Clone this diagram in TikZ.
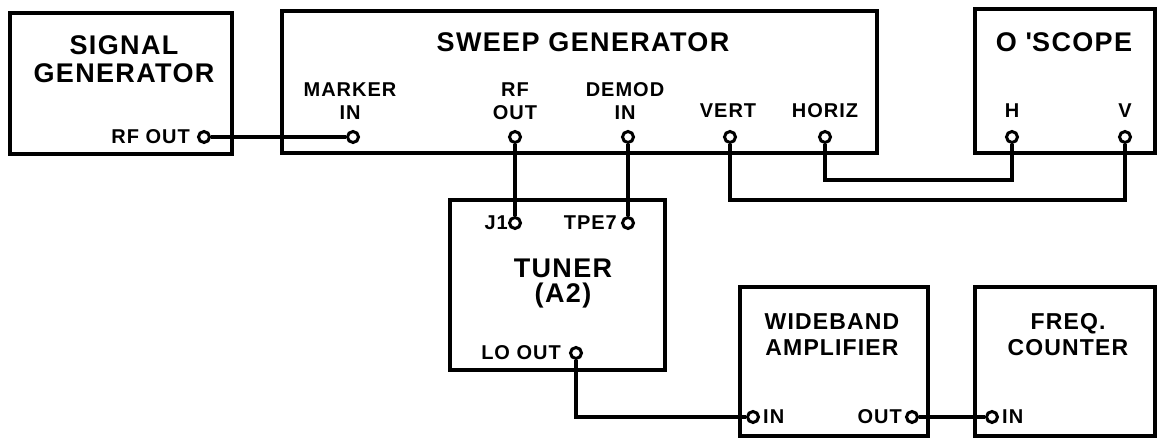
\documentclass[tikz,border=0pt]{standalone}
\usepackage{fontspec}
\setmainfont{Liberation Sans}[LetterSpace=5]
\begin{document}
\begin{tikzpicture}[x=1pt,y=-1pt,
  box/.style={draw, line width=3.4pt, rectangle, inner sep=0pt},
  port/.style={draw, line width=3pt, circle, inner sep=0pt, minimum size=11pt},
  wire/.style={line width=3.2pt},
  ttl/.style={font=\bfseries\fontsize{27}{28}\selectfont, align=center, inner sep=0pt},
  lbl/.style={font=\bfseries\fontsize{20}{23}\selectfont, align=center, inner sep=0pt}]
\useasboundingbox (0,0) rectangle (1163,438);
% boxes
\node[box, minimum width=222pt, minimum height=141pt] (sig) at (121,83.5) {};
\node[box, minimum width=595pt, minimum height=142pt] (sweep) at (579.5,82) {};
\node[box, minimum width=180pt, minimum height=144pt] (scope) at (1065,81) {};
\node[box, minimum width=215pt, minimum height=170pt] (tuner) at (557.5,285) {};
\node[box, minimum width=188pt, minimum height=149pt] (wide) at (834,361.5) {};
\node[box, minimum width=180pt, minimum height=149pt] (freq) at (1065,361.5) {};
% titles
\node[ttl] (tsig) at (124,59) {SIGNAL\\GENERATOR};
\node[ttl] (tsweep) at (583,42) {SWEEP GENERATOR};
\node[ttl] (tscope) at (1064,42) {O \textquotesingle SCOPE};
\node[ttl, font=\bfseries\fontsize{27}{25}\selectfont] (ttuner) at (563,284) {TUNER\\(A2)};
\node[ttl, font=\bfseries\fontsize{23}{26}\selectfont] (twide) at (832,335) {WIDEBAND\\AMPLIFIER};
\node[ttl, font=\bfseries\fontsize{23}{26}\selectfont] (tfreq) at (1068,335) {FREQ.\\COUNTER};
% ports
\node[port] (sigrf) at (204,137) {};
\node[port] (mkin) at (353,137) {};
\node[port] (rfout) at (515,137) {};
\node[port] (demin) at (628,137) {};
\node[port] (vert) at (730,137) {};
\node[port] (horiz) at (825,137) {};
\node[port] (H) at (1012,137) {};
\node[port] (V) at (1125,137) {};
\node[port] (j1) at (515,223) {};
\node[port] (tpe7) at (628,223) {};
\node[port] (loout) at (576,353) {};
\node[port] (wbin) at (753,417) {};
\node[port] (wbout) at (912,417) {};
\node[port] (fcin) at (992,417) {};
% port labels
\node[lbl, anchor=east] (lsigrf) at (190,137) {RF OUT};
\node[lbl] (lmkin) at (350,101) {MARKER\\IN};
\node[lbl] (lrfout) at (515,101) {RF\\OUT};
\node[lbl] (ldemin) at (625,101) {DEMOD\\IN};
\node[lbl] (lvert) at (728,111) {VERT};
\node[lbl] (lhoriz) at (825,111) {HORIZ};
\node[lbl] (lH) at (1012,111) {H};
\node[lbl] (lV) at (1125,111) {V};
\node[lbl, anchor=east] (lj1) at (508,223) {J1};
\node[lbl, anchor=east] (ltpe7) at (617,223) {TPE7};
\node[lbl, anchor=east] (lloout) at (561,353) {LO OUT};
\node[lbl, anchor=west] (lwbin) at (763,417) {IN};
\node[lbl, anchor=east] (lwbout) at (902,417) {OUT};
\node[lbl, anchor=west] (lfcin) at (1002,417) {IN};
% wires
\draw[wire] (sigrf.east) -- (mkin.west);
\draw[wire] (rfout.south) -- (j1.north);
\draw[wire] (demin.south) -- (tpe7.north);
\draw[wire] (horiz.south) -- ++(0,36) -| (H.south);
\draw[wire] (vert.south) -- ++(0,56) -| (V.south);
\draw[wire] (loout.south) |- (wbin.west);
\draw[wire] (wbout.east) -- (fcin.west);
\end{tikzpicture}
\end{document}
